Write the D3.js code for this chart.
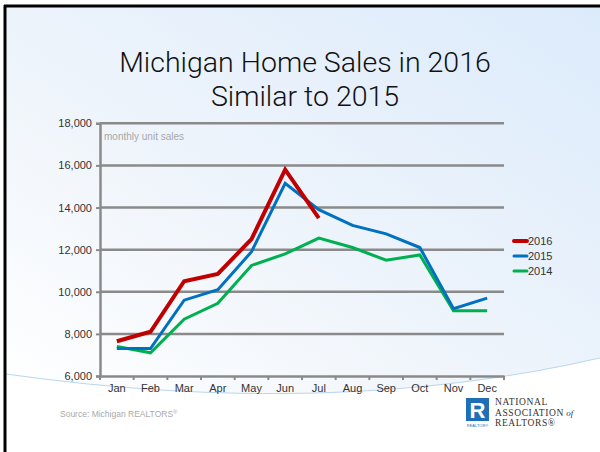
<!DOCTYPE html>
<html><head><meta charset="utf-8">
<script src="https://cdn.jsdelivr.net/npm/d3@7"></script>
<style>html,body{margin:0;padding:0;background:#fff;}svg{display:block;}</style>
</head><body>
<script>
const months = ["Jan","Feb","Mar","Apr","May","Jun","Jul","Aug","Sep","Oct","Nov","Dec"];
const sales2016 = [7650, 8100, 10500, 10850, 12500, 15800, 13500];
const sales2015 = [7300, 7300, 9600, 10100, 11900, 15150, 13900, 13150, 12750, 12100, 9200, 9700];
const sales2014 = [7400, 7100, 8700, 9450, 11250, 11800, 12550, 12100, 11500, 11750, 9100, 9100];
const yTicks = [6000, 8000, 10000, 12000, 14000, 16000, 18000];
const seriesNames = ["2016", "2015", "2014"];
const seriesColors = ["#c00000", "#0070c0", "#00b050"];

(function(){
const W = 600, H = 452;
const svg = d3.select("body").append("svg").attr("width", W).attr("height", H);
const defs = svg.append("defs");
const grad = defs.append("linearGradient").attr("id","bg").attr("x1","0").attr("y1","1").attr("x2","1").attr("y2","0");
grad.append("stop").attr("offset","0").attr("stop-color","#ffffff");
grad.append("stop").attr("offset","0.45").attr("stop-color","#eef4fb");
grad.append("stop").attr("offset","1").attr("stop-color","#dcebfb");

svg.append("rect").attr("width",W).attr("height",H).attr("fill","#fff");
svg.append("path")
  .attr("d","M6,6 L600,6 L600,358 Q330,420 6,374 Z")
  .attr("fill","url(#bg)");
svg.append("path")
  .attr("d","M6,374 Q330,420 600,358")
  .attr("fill","none").attr("stroke","#b9d6ee").attr("stroke-width",1);
svg.append("line").attr("x1",4).attr("x2",600).attr("y1",6).attr("y2",6).attr("stroke","#000").attr("stroke-width",3);
svg.append("line").attr("x1",5).attr("x2",5).attr("y1",5).attr("y2",452).attr("stroke","#000").attr("stroke-width",3);

const title = svg.append("text").attr("text-anchor","middle")
  .attr("font-family","Roboto").attr("font-weight",300).attr("font-size",28.5).attr("fill","#111");
title.append("tspan").attr("x",305).attr("y",72).text("Michigan Home Sales in 2016");
title.append("tspan").attr("x",305).attr("y",106).text("Similar to 2015");

const pL = 100, pR = 504, pT = 123.3, pB = 376;
const x = d3.scaleBand().domain(months).range([pL, pR]);
const y = d3.scaleLinear().domain([6000, 18000]).range([pB, pT]);

svg.append("g").selectAll("line").data(yTicks.slice(1)).join("line")
  .attr("x1", pL).attr("x2", pR).attr("y1", d=>y(d)).attr("y2", d=>y(d))
  .attr("stroke","#8a8a8a").attr("stroke-width",2.5);

const yAxis = svg.append("g").attr("transform",`translate(${pL},0)`)
  .call(d3.axisLeft(y).tickValues(yTicks).tickFormat(d3.format(",")).tickSize(4).tickPadding(4));
yAxis.select(".domain").attr("stroke","#8a8a8a").attr("stroke-width",2.5);
yAxis.selectAll(".tick line").attr("stroke","#8a8a8a").attr("stroke-width",2);
yAxis.selectAll("text").attr("font-family","Liberation Sans").attr("font-size",11).attr("fill","#333");

const xAxis = svg.append("g").attr("transform",`translate(0,${pB})`)
  .call(d3.axisBottom(x).tickSize(0).tickPadding(8));
xAxis.select(".domain").attr("stroke","#8a8a8a").attr("stroke-width",2.5);
xAxis.selectAll("text").attr("font-family","Liberation Sans").attr("font-size",11).attr("fill","#333");
const bounds = months.map(m=>x(m)).concat([x.range()[1]]);
svg.append("g").selectAll("line").data(bounds).join("line")
  .attr("x1",d=>d).attr("x2",d=>d)
  .attr("y1",pB).attr("y2",pB+4).attr("stroke","#8a8a8a").attr("stroke-width",2);

svg.append("text").attr("x",104).attr("y",140).attr("font-family","Liberation Sans").attr("font-size",10)
  .attr("fill","#a8a8a8").text("monthly unit sales");

const line = d3.line().x((d,i)=>x(months[i]) + x.bandwidth()/2).y(d=>y(d));
const allSeries = [sales2016, sales2015, sales2014];
const widths = [4, 3, 3];
[2,1,0].forEach(i=>{
  svg.append("path").datum(allSeries[i]).attr("d",line).attr("fill","none")
    .attr("stroke",seriesColors[i]).attr("stroke-width",widths[i]).attr("stroke-linejoin","miter");
});

const lg = svg.append("g");
seriesNames.forEach((n,i)=>{
  const ly = 241 + i*15;
  lg.append("line").attr("x1",514).attr("x2",527).attr("y1",ly).attr("y2",ly)
    .attr("stroke",seriesColors[i]).attr("stroke-width",widths[i]).attr("stroke-linecap","round");
  lg.append("text").attr("x",528).attr("y",ly+4).attr("font-family","Liberation Sans").attr("font-size",11)
    .attr("fill","#333").text(n);
});

const src = svg.append("text").attr("x",60).attr("y",417).attr("font-family","Liberation Sans").attr("font-size",8.5).attr("fill","#aaa");
src.append("tspan").text("Source: Michigan REALTORS");
src.append("tspan").attr("font-size",6).attr("dy",-3).text("®");

const logo = svg.append("g");
logo.append("rect").attr("x",466).attr("y",398).attr("width",23).attr("height",23).attr("fill","#1f6fb8");
logo.append("text").attr("x",477.5).attr("y",418).attr("text-anchor","middle").attr("font-family","Liberation Sans")
  .attr("font-weight","bold").attr("font-size",22).attr("fill","#fff").text("R");
logo.append("text").attr("x",477.5).attr("y",427).attr("text-anchor","middle").attr("font-family","Liberation Sans")
  .attr("font-size",4).attr("fill","#1f6fb8").text("REALTOR®");
const nar = logo.append("text").attr("font-family","Liberation Serif").attr("font-size",9.5).attr("fill","#333").attr("letter-spacing",0.6);
nar.append("tspan").attr("x",495).attr("y",405).text("NATIONAL");
nar.append("tspan").attr("x",495).attr("y",416).text("ASSOCIATION");
nar.append("tspan").attr("font-style","italic").attr("font-size",9).attr("letter-spacing",0).text(" of");
nar.append("tspan").attr("x",495).attr("y",426).text("REALTORS®");
})();
</script>
</body></html>
